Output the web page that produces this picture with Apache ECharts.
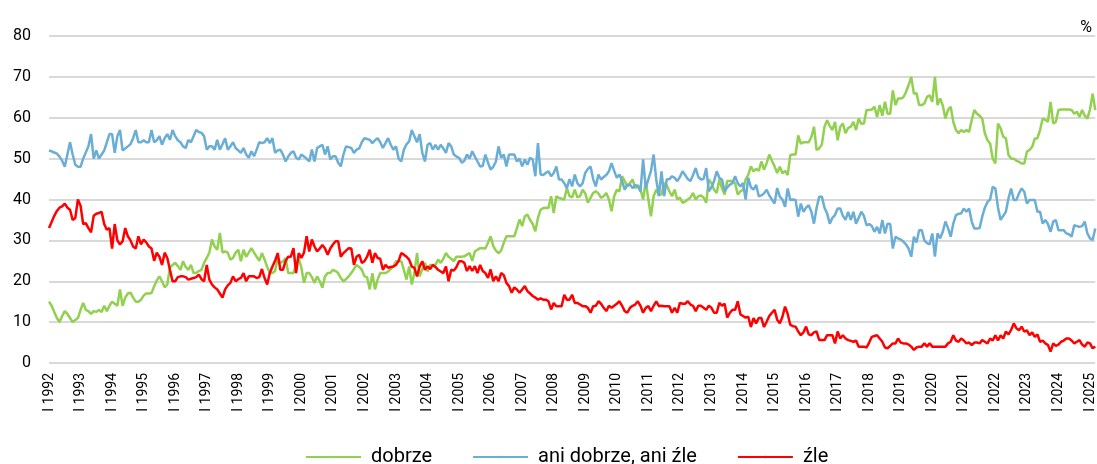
<!DOCTYPE html>
<html>
<head>
<meta charset="utf-8">
<script src="https://cdn.jsdelivr.net/npm/echarts@6/dist/echarts.min.js"></script>
<style>
  html, body { margin: 0; padding: 0; background: #fff; }
  #chart { width: 1097px; height: 464px; }
</style>
</head>
<body>
<div id="chart"></div>
<script>
// monthly survey results, I 1992 .. III 2025 (percent)
const firstYear = 1992
const monthNames = ['I', 'II', 'III', 'IV', 'V', 'VI', 'VII', 'VIII', 'IX', 'X', 'XI', 'XII']
const seriesNames = ['dobrze', 'ani dobrze, ani źle', 'źle']
const yTicks = [0, 10, 20, 30, 40, 50, 60, 70, 80]

const dobrze = [
  15, 14, 12.5, 11, 10, 11.5, 12.7, 12, 11, 10, 10.5, 11, 13, 14.7, 13, 12.7, 12, 12.7, 12.5, 13,
  12.5, 14, 12.7, 14, 15, 14.5, 14, 18, 14, 16, 17, 17.2, 16, 15, 15, 15.5, 16.5, 17, 17,
  17.1, 18.8, 20.2, 21.2, 20, 18.5, 19.2, 23.3, 24, 24.5, 23.7, 22.8, 24.9, 23.5, 22.8, 24, 22, 22, 22.5, 22.8,
  24.5, 25.7, 27, 30.2, 28.5, 27.7, 31.8, 27, 27.3, 27, 25.3, 25.7, 27, 27.7, 24.9, 27.7, 26, 27, 28.1, 27,
  26, 25, 26.9, 25.3, 23.5, 22, 22, 22.5, 25.7, 24.5, 24.8, 25.7, 22, 22, 22, 24, 25.7, 23.3, 19.6, 22,
  22, 21, 19.6, 21.2, 20, 18.4, 21.2, 22, 22, 22.8, 22.5, 22, 20.8, 20, 20.5, 21.2, 22, 23, 24,
  23.5, 22.8, 21.2, 21, 18, 22, 18, 20.4, 22, 22, 22, 22.4, 23, 23.6, 24.9, 24.9, 24.9, 22.8, 20.4, 23.6,
  19.2, 22, 26.9, 21.2, 23, 24.5, 22.4, 24, 24, 24, 25.3, 24.5, 25.5, 26.9, 26, 25.5, 24.9, 26, 26, 26,
  26.1, 26.5, 26.9, 25, 27.3, 27.7, 28.1, 28.1, 28, 29.4, 31, 28.6, 27.5, 26.9, 27.5, 29.4, 31, 31, 31, 31,
  33, 35.1, 33.5, 35.9, 36.3, 35, 34, 32.2, 35.5, 37.5, 37.9, 38, 37.9, 40.8, 36.7, 40.8, 40.4, 40.2, 40, 42.8,
  40.8, 40.5, 42.4, 40.5, 40.8, 42.4, 41.5, 39.2, 40.4, 41.6, 42, 41.5, 40.4, 40.8, 41.6, 40, 37.1, 40.8, 42.4, 42,
  45.7, 44.5, 43.2, 44, 44.9, 42.8, 43.5, 42.4, 40, 44.5, 40, 35.9, 40.8, 42.4, 41.2, 41.2, 44, 43.5, 42, 40.8, 42.4,
  40, 40.5, 39.2, 39.5, 40, 40.5, 41.6, 40, 40.8, 41, 40.5, 39.2, 44.9, 44, 42.4, 41.6, 44.9, 42.8, 41.2, 44.5,
  44.5, 44.5, 44, 41.2, 42, 42.4, 44.9, 46, 48.1, 46.9, 47.5, 47, 49.3, 47.3, 48.9, 51, 49.5, 48.1, 46.5,
  48, 46.4, 47, 46, 50.9, 51, 51, 55.7, 53.7, 54, 54, 54, 55.3, 57.8, 52.1, 52.5, 53.5, 57.8, 59.4, 58,
  57, 59, 54.5, 57.8, 58.6, 56.2, 57.5, 57.8, 59, 57, 59.8, 58.5, 58.6, 61.9, 61.9, 62, 62.7, 60.2, 63.1, 60.5,
  63.9, 61, 61, 66.7, 63.1, 64.7, 64.7, 65, 66.3, 68, 70, 65.9, 66, 63.1, 63.1, 63.5, 65.1, 65.5, 63.9, 70,
  63.1, 64.7, 63, 59.8, 61.9, 62.7, 59, 57, 56.2, 57, 56.5, 57, 56.5, 59.4, 61.9, 61, 60.5, 59.8, 56.2, 54.5,
  53.7, 50, 48.8, 58.6, 57.4, 55.3, 55, 50.9, 50, 50, 49.5, 49.2, 48.8, 48.8, 51.7, 52.1, 52.9, 54.9, 55, 57,
  59.8, 59.5, 59, 63.9, 58.6, 59, 61.9, 62, 62, 62, 62, 61.9, 61, 61.5, 60.2, 61.9, 60.5, 59.8, 62, 65.9, 61.9
]

const aniDobrzeAniZle = [
  52, 51.8, 51.5, 51.2, 50.5, 49.5, 48, 51, 54, 51, 48.5, 48, 48, 50, 51.5, 53, 56, 50, 52, 50,
  51, 52, 54, 56, 56, 51.4, 55.5, 57, 52, 52.5, 53, 53.5, 55, 57, 54, 54, 54.5, 54, 54,
  57, 54, 54.5, 55.5, 53.4, 55, 56, 54.6, 57, 55.5, 54.5, 54, 53, 52.6, 54.6, 54, 55.5, 57, 56.5, 56.3,
  55.5, 52.2, 53, 53, 52.2, 54.6, 52.2, 53.5, 55, 52.2, 53, 54, 52.6, 52, 51.4, 52.6, 51, 50.2, 51.8, 50.6,
  52.2, 54, 53.8, 54, 55, 53.8, 55, 51.4, 52, 52.2, 51, 49.3, 50.5, 51.4, 51.8, 50.2, 49.8, 51, 50.5, 50,
  49.3, 52.2, 49.3, 52.6, 53, 53.4, 51, 53, 49.8, 50.6, 50.6, 49, 48.1, 51, 53, 52.8, 52.6, 51.4, 52.2,
  52.5, 54, 55, 54.8, 54.6, 53.8, 54.5, 55, 54, 52.6, 53.8, 55, 53.4, 52.2, 53, 50, 49.3, 52.2, 53.5, 54.2,
  57, 55.5, 54, 56, 51.4, 49.3, 53.4, 53.8, 52.2, 53.4, 52.2, 53.4, 52.5, 51.4, 53.8, 53, 51, 50.5, 50.2, 49,
  49.5, 51, 50, 51.8, 50.5, 49.3, 48.1, 48.2, 51, 49, 47.3, 48, 49.3, 53, 50.2, 51, 48.1, 51, 51, 51,
  49.3, 50, 48.1, 49.8, 48.5, 50.2, 49.8, 45.7, 53.8, 46.1, 46, 46.5, 46.9, 45.7, 46.5, 48.1, 44.9, 44.9, 44, 42.8,
  45, 43.2, 46.1, 44, 43.2, 44, 46.5, 47.5, 48.1, 45, 43.2, 46.1, 44.9, 45.5, 46, 46.9, 48.9, 47, 45.3, 46.1,
  44.5, 42.4, 43.6, 43.6, 42.8, 43.5, 43.2, 42, 49.8, 42.8, 44.9, 47, 51, 44.9, 40.8, 46.9, 40.8, 44.9, 45, 45.7, 45.3,
  44.5, 45.5, 46.9, 46, 45, 44.5, 46, 47.7, 45.5, 44.9, 45, 47.7, 42, 43, 44.5, 46.9, 45.3, 44.9, 42, 43,
  43.6, 44, 45.7, 44, 43.2, 44, 40, 45.3, 43, 42.4, 43.6, 40.8, 41, 41.5, 42.4, 41, 40, 39, 42.8,
  40.7, 40, 38.2, 42.7, 39.9, 40, 39.9, 35.8, 39, 37, 38, 38.6, 37, 34.1, 38, 40.7, 40.7, 38, 36.6, 34.1,
  35.5, 36.2, 37.8, 37.8, 36, 35, 37, 35, 37, 34.1, 35.5, 37, 36, 33.7, 34, 33.5, 32.1, 33.3, 31.7, 35,
  31.7, 34.1, 34, 28, 30.9, 30.5, 30.2, 29.7, 29, 28, 26, 30.9, 29.5, 32.5, 32.5, 30, 29.3, 29, 31.7, 26,
  31.7, 30.5, 32.1, 34.6, 33, 30.9, 34.1, 36.2, 36.5, 36.6, 37.8, 37, 37.8, 34.6, 32.9, 32.9, 33, 35.8, 38, 39.4,
  40, 43.1, 42.7, 38, 35, 36, 37, 40.3, 42.7, 39.9, 39.9, 41.5, 42.7, 41.9, 39, 39.9, 39.9, 39.9, 37, 37,
  34.1, 35, 34, 32.1, 34.6, 35, 32.5, 32.5, 32.5, 31.7, 31.5, 30.9, 33.7, 33.5, 33.3, 33.5, 34.6, 31.7, 30.5, 30.1, 32.9
]

const zle = [
  33, 34.5, 36, 37.2, 38, 38.3, 39, 38, 37.5, 35, 35.5, 40, 38.5, 34, 34.2, 33, 32, 36, 36.5, 36.7,
  37, 34, 32.6, 33, 28, 34, 30, 29, 29.8, 33, 31, 30, 28.5, 28, 31, 29, 30.2, 29.5, 28.5,
  28, 25, 27, 26, 24, 27, 25.7, 22.8, 20, 20, 21, 21.2, 21.2, 21, 20.4, 20.6, 20.8, 21, 21.6, 20.5,
  20, 24, 20.4, 19.2, 18.5, 18, 17, 16, 18, 19, 19.6, 21.2, 20, 20.5, 20.8, 22, 20, 21.2, 21.2, 21.2,
  20.8, 21, 23, 20.8, 19.2, 22, 23.6, 25, 26.9, 22.8, 22.8, 24.9, 26, 26, 28.1, 22, 26.9, 25.7, 27, 31,
  27.3, 30.2, 28.5, 27.3, 28, 28.9, 28, 26.5, 28, 29, 29.8, 29.8, 26, 26.9, 27.5, 28.1, 28, 24, 26,
  26.5, 24.5, 24.9, 26, 27.7, 24.5, 26.9, 25.7, 25.5, 22.8, 24, 23.3, 23.5, 23.6, 24, 25, 26.9, 26.5, 26, 25.3,
  23.6, 23.3, 21.2, 23.6, 24.9, 22.8, 23.6, 23, 24, 23.5, 22.8, 22.4, 22, 23.6, 20, 22.8, 22.6, 23.5, 24.9, 24.9,
  24.5, 22.5, 23.7, 22.5, 23.7, 22, 24, 22.5, 22, 20.8, 22.9, 20, 21.2, 20, 22, 21.5, 19.6, 18.8, 17.2, 18.5,
  18, 17.2, 18, 18.8, 17.6, 17, 16.4, 16, 15.5, 15.8, 15.5, 15.5, 15.1, 13.1, 14.7, 13.9, 13.9, 13.9, 16.7, 15.5,
  15.5, 16.7, 14.7, 14.7, 14.3, 13.9, 13.9, 13.5, 12.3, 13.9, 14, 15.1, 14.5, 13.5, 12.7, 14, 13.5, 14, 14.5, 15.1,
  14, 12.7, 12.3, 13.5, 14, 14.3, 15.1, 14, 12.3, 13.5, 13.9, 12.7, 14, 15.1, 13.9, 14, 13.9, 13.9, 13.9, 12.3, 13.5,
  12.3, 14.7, 14.5, 14.5, 15.1, 14.3, 14, 12.7, 14, 14, 13.5, 13, 14, 13.5, 12.3, 12.3, 14.7, 14, 14.5, 11.1,
  12.3, 13, 13, 15.1, 11.9, 11.5, 11.1, 11.3, 8.8, 11, 9.7, 11, 11, 8.8, 10.1, 11.5, 12.3, 13, 10.6,
  9.7, 11.3, 13.8, 12, 9.3, 9, 8.9, 7.7, 6.8, 7.5, 8.9, 7, 6.8, 7.5, 7.7, 5.6, 5.6, 5.6, 6.8, 6.8,
  6.8, 4.8, 7.7, 6, 6.8, 6, 5.6, 5.4, 5.2, 5.5, 4, 4, 4, 3.8, 5, 6.4, 6.6, 6.8, 6, 5.2,
  3.8, 3.6, 4.2, 4.8, 4.8, 6, 5, 4.8, 4.8, 4.5, 4, 3.2, 3.8, 4, 4, 4.8, 4, 4.8, 4, 4,
  4, 4, 4, 4, 4.8, 5.2, 6.8, 5.5, 5.2, 6, 5.5, 4.8, 5, 4.4, 5, 5, 4.8, 5.6, 5.2, 4.8,
  6, 5.5, 6.8, 5.5, 6.8, 6, 7.7, 7, 8.1, 9.7, 8.5, 8, 8.9, 7.7, 8, 6.8, 7.5, 6.4, 7, 5.2,
  5.5, 4.8, 4.4, 2.8, 4.8, 4.2, 4.5, 5.2, 5.5, 6, 6, 5.5, 4.8, 5.2, 5.6, 4.5, 4, 5, 4.8, 3.6, 4
]

const categories = dobrze.map((_, i) => monthNames[i % 12] + ' ' + (firstYear + Math.floor(i / 12)))

const font = 'Roboto, "Noto Sans", sans-serif'
const colors = ['#92D050', '#6AAED6', '#FF0000']

const chart = echarts.init(document.getElementById('chart'))

const makeSeries = (name, data, color) => ({
  name: name,
  type: 'line',
  data: data,
  symbol: 'none',
  smooth: false,
  lineStyle: { color: color, width: 2.5 },
  itemStyle: { color: color }
})

chart.setOption({
  animation: false,
  backgroundColor: '#fff',
  title: {
    text: '%',
    right: 0,
    top: 15,
    textStyle: { fontFamily: font, fontSize: 16, fontWeight: 'normal', color: '#000' }
  },
  legend: {
    data: seriesNames,
    left: 300,
    top: 442,
    itemWidth: 55,
    itemHeight: 3,
    itemGap: 40,
    textStyle: { fontFamily: font, fontSize: 20, color: '#000', padding: [0, 0, 0, 5] }
  },
  grid: {
    left: 49,
    right: 0,
    top: 36,
    bottom: 101,
    containLabel: false
  },
  xAxis: {
    type: 'category',
    boundaryGap: false,
    data: categories,
    axisLine: { show: false },
    axisTick: { show: false },
    axisLabel: {
      interval: 11,
      rotate: 90,
      margin: 10,
      fontFamily: font,
      fontSize: 14,
      color: '#000'
    },
    splitLine: { show: false }
  },
  yAxis: {
    type: 'value',
    min: yTicks[0],
    max: yTicks[yTicks.length - 1],
    interval: 10,
    axisLine: { show: false },
    axisTick: { show: false },
    axisLabel: {
      margin: 18,
      fontFamily: font,
      fontSize: 16,
      color: '#000'
    },
    splitLine: { lineStyle: { color: '#D9D9D9', width: 2 } }
  },
  series: [
    makeSeries(seriesNames[0], dobrze, colors[0]),
    makeSeries(seriesNames[1], aniDobrzeAniZle, colors[1]),
    makeSeries(seriesNames[2], zle, colors[2])
  ]
})
</script>
</body>
</html>
